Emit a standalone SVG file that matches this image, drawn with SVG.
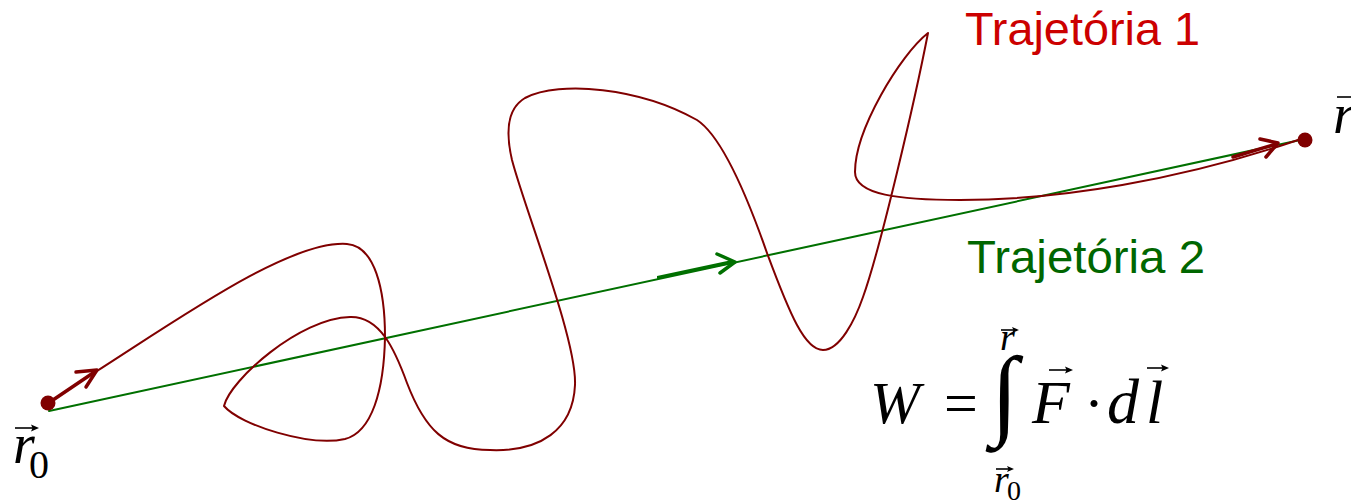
<svg xmlns="http://www.w3.org/2000/svg" width="1351" height="500" viewBox="0 0 1351 500">
<style>
.red{fill:none;stroke:#800000;stroke-width:2;stroke-linejoin:round;stroke-linecap:round}
.redb{fill:none;stroke:#800000;stroke-width:3.5;stroke-linecap:round;stroke-linejoin:round}
.grn{fill:none;stroke:#007000;stroke-width:2;stroke-linecap:round}
.grnb{fill:none;stroke:#007000;stroke-width:3.5;stroke-linecap:round;stroke-linejoin:round}
.dot{fill:#800000}
.lbl{font-family:"Liberation Sans",Arial,sans-serif;font-size:46px}
.m{font-family:"Liberation Serif","Times New Roman",serif;fill:#000}
.it{font-style:italic}
.vec{stroke:#000;stroke-width:1.6;fill:none}
.vh{fill:#000}
</style>
<rect width="1351" height="500" fill="#fff"/>
<g id="connectors">
<line class="grn" x1="49" y1="411" x2="1305" y2="139"/>
<polygon fill="#007000" points="657,276 657,279 733,263.5 732,260"/>
<polyline class="grnb" points="717,254 735,262 720,273"/>
<path class="red" d="M97,371 C180,318 290,240 347,244 C375,246 385,290 385,337 C384,390 372,432 345,439 C310,447 240,425 224,406 C230,380 300,318 350,317 C380,316 395,350 407,383 C425,430 445,450 490,450 C540,452 573,430 575,385 C577,340 525,210 512,160 C505,130 508,108 525,98 C560,80 640,88 697,120 C720,135 745,190 767,253 C790,315 805,350 823,350 C840,350 855,320 863,297 C880,250 915,100 928,33 C900,55 855,130 855,172 C855,195 900,200 960,200 C1060,200 1180,180 1298,140"/>
<line class="redb" x1="50" y1="402" x2="96" y2="371"/>
<polyline class="redb" points="76,372 97,370 86,387"/>
<line class="redb" x1="1233" y1="157" x2="1276" y2="144"/>
<polyline class="redb" points="1260,139 1278,143 1266,157"/>
</g>
<g id="start">
<circle class="dot" cx="48" cy="403" r="7.5"/>
<text class="m it" x="13" y="463" font-size="56">r</text>
<text class="m" x="29" y="478" font-size="40">0</text>
<line class="vec" x1="15" y1="428" x2="34" y2="428"/>
<polygon class="vh" points="39,428 31,424.5 32.5,428 31,431.5"/>
</g>
<g id="end">
<circle class="dot" cx="1305" cy="140" r="7.5"/>
<text class="m it" x="1333" y="133" font-size="56">r</text>
<line class="vec" x1="1337" y1="97" x2="1351" y2="97"/>
</g>
<g id="label1">
<text class="lbl" x="965" y="45" fill="#cc0000" textLength="235" lengthAdjust="spacingAndGlyphs">Trajetória 1</text>
</g>
<g id="label2">
<text class="lbl" x="967" y="273" fill="#006600" textLength="238" lengthAdjust="spacingAndGlyphs">Trajetória 2</text>
</g>
<g id="formula">
<text class="m it" x="870" y="423" font-size="60">W</text>
<text class="m" x="944" y="423" font-size="60">=</text>
<text class="m" x="991" y="426" font-size="100">∫</text>
<text class="m it" x="1000" y="350" font-size="38">r</text>
<line class="vec" x1="1001" y1="330" x2="1015" y2="330"/>
<polygon class="vh" points="1019,330 1012,327 1013.5,330 1012,333"/>
<text class="m it" x="994" y="492" font-size="38">r</text>
<text class="m" x="1007" y="500" font-size="28">0</text>
<line class="vec" x1="996" y1="469" x2="1010" y2="469"/>
<polygon class="vh" points="1014,469 1007,466 1008.5,469 1007,472"/>
<text class="m it" x="1032" y="423" font-size="62">F</text>
<line class="vec" x1="1049" y1="370" x2="1068" y2="370"/>
<polygon class="vh" points="1073,370 1065,366.5 1066.5,370 1065,373.5"/>
<text class="m" x="1084" y="423" font-size="60">·</text>
<text class="m it" x="1107" y="423" font-size="64">d</text>
<text class="m it" x="1146" y="423" font-size="62">l</text>
<line class="vec" x1="1147" y1="368" x2="1164" y2="368"/>
<polygon class="vh" points="1169,368 1161,364.5 1162.5,368 1161,371.5"/>
</g>
</svg>
